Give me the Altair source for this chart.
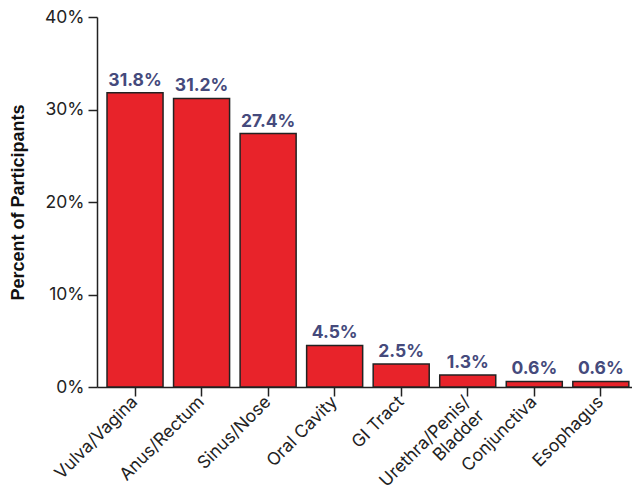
import altair as alt
import pandas as pd

categories = ["Vulva/Vagina", "Anus/Rectum", "Sinus/Nose", "Oral Cavity",
              "GI Tract", "Urethra/Penis/Bladder", "Conjunctiva", "Esophagus"]
percents = [31.8, 31.2, 27.4, 4.5, 2.5, 1.3, 0.6, 0.6]
y_ticks = [0, 10, 20, 30, 40]

df = pd.DataFrame({"site": categories, "pct": percents})

W, H = 535, 370
AX = "#222222"

x = alt.X(
    "site:N", sort=None,
    scale=alt.Scale(paddingInner=0.158, paddingOuter=0.099, align=0.76),
    axis=alt.Axis(
        title=None, labelAngle=-45, labelAlign="right", labelBaseline="middle",
        labelFont="Inter", labelFontSize=17.5, labelColor=AX, labelPadding=3,
        tickSize=9, tickColor=AX, tickWidth=1.5, domainColor=AX, domainWidth=1.5,
        labelExpr="datum.label == 'Urethra/Penis/Bladder' ? ['Urethra/Penis/', 'Bladder'] : datum.label",
    ),
)
y = alt.Y(
    "pct:Q",
    scale=alt.Scale(domain=[0, 40], nice=False),
    axis=alt.Axis(
        values=y_ticks, labelExpr="datum.value + '%'", grid=False,
        labelFont="Inter", labelFontSize=17.5, labelColor=AX, labelPadding=4,
        tickSize=9, tickColor=AX, tickWidth=1.5, domainColor=AX, domainWidth=1.5,
        title="Percent of Participants", titleFont="Liberation Sans",
        titleFontSize=18, titleFontWeight="bold", titleColor="#111111",
        titleX=-79, titleY=H / 2, titleAngle=270, titleAlign="center",
        titleBaseline="middle",
    ),
)

bars = alt.Chart(df).mark_bar(color="#E8232A", stroke="#222222", strokeWidth=1.5).encode(x=x, y=y)
text = alt.Chart(df).transform_calculate(
    lbl="format(datum.pct, '.1f') + '%'"
).mark_text(
    font="Inter", fontSize=17.5, fontWeight="bold", color="#454A7C",
    baseline="alphabetic", dy=-7,
).encode(x=alt.X("site:N", sort=None), y="pct:Q", text="lbl:N")

chart = (bars + text).properties(
    width=W, height=H,
    autosize=alt.AutoSizeParams(type="none"),
    padding={"left": 89, "top": 9, "right": 0, "bottom": 101},
).configure_view(stroke=None)

chart.save("out.html", embed_options={"renderer": "svg", "actions": False})
